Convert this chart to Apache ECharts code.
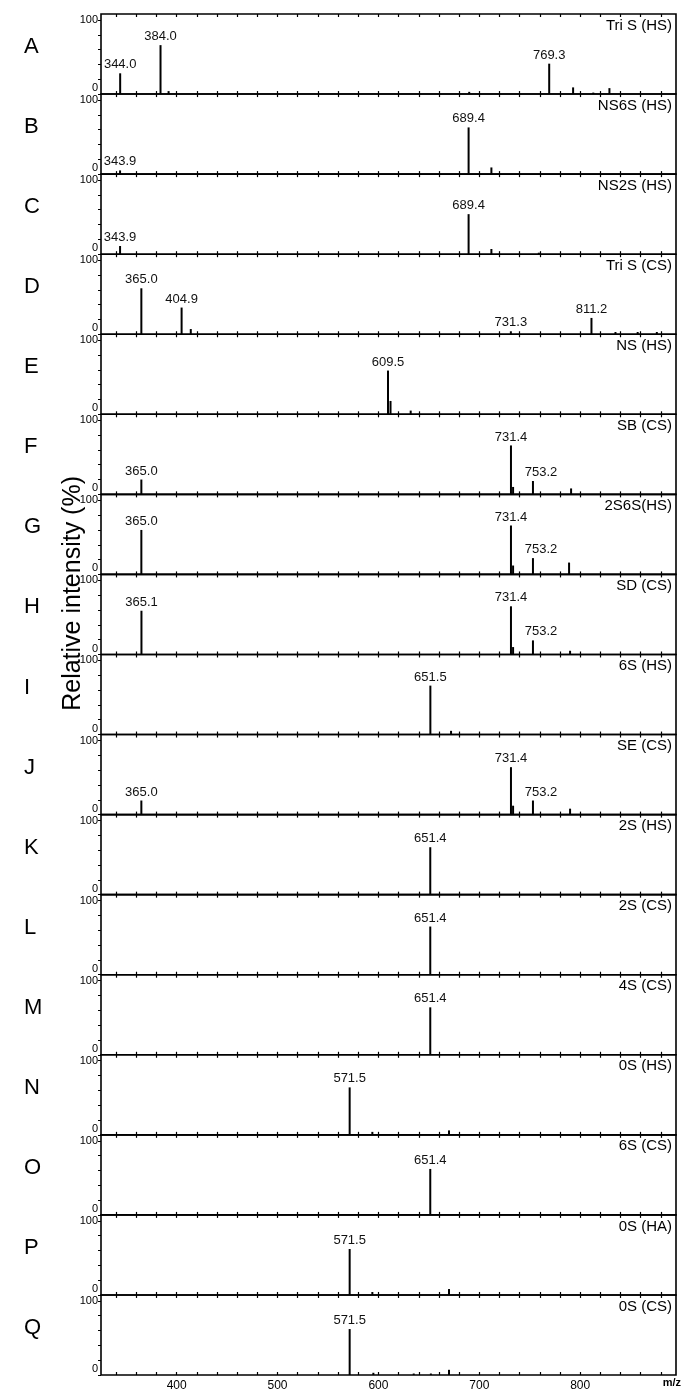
<!DOCTYPE html>
<html>
<head>
<meta charset="utf-8">
<script src="https://cdn.jsdelivr.net/npm/echarts@6/dist/echarts.min.js"></script>
<style>
  html, body { margin: 0; padding: 0; background: #fff; }
  #chart { width: 685px; height: 1392px; }
</style>
</head>
<body>
<div id="chart"></div>
<script>
// panel letters and titles
var letters = ['A', 'B', 'C', 'D', 'E', 'F', 'G', 'H', 'I', 'J', 'K', 'L', 'M', 'N', 'O', 'P', 'Q']
var titles = ['Tri S (HS)', 'NS6S (HS)', 'NS2S (HS)', 'Tri S (CS)', 'NS (HS)', 'SB (CS)', '2S6S(HS)', 'SD (CS)',
  '6S (HS)', 'SE (CS)', '2S (HS)', '2S (CS)', '4S (CS)', '0S (HS)', '6S (CS)', '0S (HA)', '0S (CS)']

// peaks: [m/z, relative intensity %, labelled]
var peaksA = [[344.0, 28, 1], [384.0, 66, 1], [392, 4, 0], [690, 3, 0], [769.3, 41, 1], [793, 9, 0], [813, 2, 0], [829, 8, 0]]
var peaksB = [[343.9, 5, 1], [689.4, 63, 1], [712, 9, 0]]
var peaksC = [[343.9, 11, 1], [689.4, 54, 1], [712, 7, 0], [759, 2, 0]]
var peaksD = [[365.0, 62, 1], [404.9, 36, 1], [414, 7, 0], [731.3, 4, 1], [811.2, 22, 1], [835, 3, 0], [857, 3, 0], [876, 3, 0]]
var peaksE = [[609.5, 59, 1], [612, 18, 0], [632, 5, 0]]
var peaksF = [[365.0, 20, 1], [731.4, 66, 1], [733.5, 10, 0], [753.2, 18, 1], [791, 8, 0]]
var peaksG = [[365.0, 60, 1], [731.4, 66, 1], [733.5, 12, 0], [753.2, 22, 1], [789, 16, 0]]
var peaksH = [[365.1, 59, 1], [731.4, 65, 1], [733.5, 10, 0], [753.2, 19, 1], [790, 5, 0]]
var peaksI = [[651.5, 66, 1], [672, 5, 0]]
var peaksJ = [[365.0, 19, 1], [731.4, 64, 1], [733.5, 12, 0], [753.2, 19, 1], [790, 8, 0]]
var peaksK = [[651.4, 64, 1]]
var peaksL = [[651.4, 65, 1]]
var peaksM = [[651.4, 64, 1]]
var peaksN = [[571.5, 64, 1], [594, 4, 0], [670, 6, 0]]
var peaksO = [[651.4, 62, 1]]
var peaksP = [[571.5, 62, 1], [594, 4, 0], [670, 8, 0]]
var peaksQ = [[571.5, 62, 1], [595, 3, 0], [635, 2, 0], [652, 2, 0], [670, 7, 0]]

var allPeaks = [peaksA, peaksB, peaksC, peaksD, peaksE, peaksF, peaksG, peaksH, peaksI,
  peaksJ, peaksK, peaksL, peaksM, peaksN, peaksO, peaksP, peaksQ]

var xTicks = [340, 360, 380, 400, 420, 440, 460, 480, 500, 520, 540, 560, 580, 600, 620, 640, 660, 680, 700, 720, 740, 760, 780, 800, 820, 840, 860, 880]
var xLabels = [400, 500, 600, 700, 800]
var yTicks = [0, 20, 40, 60, 80, 100]
var yLabels = [0, 100]

var FONT = 'Liberation Sans, Arial, sans-serif'
var TOP = 14
var PANEL_H = 80.06
var LEFT = 101
var RIGHT = 9

var chart = echarts.init(document.getElementById('chart'), null, { renderer: 'canvas' })

var grids = []
var xAxes = []
var yAxes = []
var series = []
var graphics = []

allPeaks.forEach(function(peaks, i) {
  var top = TOP + i * PANEL_H
  var last = i === allPeaks.length - 1
  grids.push({
    left: LEFT, right: RIGHT, top: top, height: PANEL_H,
    show: true, borderColor: '#000', borderWidth: 1.6, backgroundColor: 'transparent'
  })
  // bottom axis
  xAxes.push({
    type: 'value', gridIndex: i, min: 325, max: 895,
    axisLine: { show: false },
    axisTick: { show: true, inside: true, length: 3, lineStyle: { color: '#000', width: 1.2 }, customValues: xTicks },
    axisLabel: { show: last, customValues: xLabels, color: '#000', fontSize: 12, fontFamily: FONT, margin: 5 },
    splitLine: { show: false }
  })
  // top axis, ticks only
  xAxes.push({
    type: 'value', gridIndex: i, position: 'top', min: 325, max: 895,
    axisLine: { show: false },
    axisTick: { show: true, inside: true, length: 3, lineStyle: { color: '#000', width: 1.2 }, customValues: xTicks },
    axisLabel: { show: false },
    splitLine: { show: false }
  })
  yAxes.push({
    type: 'value', gridIndex: i, min: 0, max: 108,
    axisLine: { show: false },
    axisTick: { show: true, length: 3, lineStyle: { color: '#000', width: 1 }, customValues: yTicks },
    axisLabel: {
      show: true, customValues: yLabels, color: '#000', fontSize: 11, fontFamily: FONT, margin: 3,
      formatter: function(v) { return v === 0 ? '{z|0}' : '{h|100}' },
      rich: {
        z: { fontSize: 11, fontFamily: FONT, color: '#000', padding: [0, 0, 12, 0] },
        h: { fontSize: 11, fontFamily: FONT, color: '#000' }
      }
    },
    splitLine: { show: false }
  })
  series.push({
    type: 'bar',
    xAxisIndex: i * 2,
    yAxisIndex: i,
    barWidth: 2,
    itemStyle: { color: '#000' },
    silent: true,
    animation: false,
    data: peaks.map(function(p) {
      return {
        value: [p[0], p[1]],
        label: {
          show: !!p[2], position: 'top', distance: 2,
          offset: [p[0] === 753.2 ? 8 : 0, 0],
          formatter: p[0].toFixed(1), color: '#111', fontSize: 13, fontFamily: FONT
        }
      }
    })
  })
  graphics.push({
    type: 'text', left: 24, top: top + 22,
    style: { text: letters[i], font: '22px ' + FONT, fill: '#000' }
  })
  graphics.push({
    type: 'text', right: 13, top: top + 4,
    style: { text: titles[i], font: '15px ' + FONT, fill: '#000' }
  })
})

graphics.push({
  type: 'text', left: 61, top: 476, rotation: Math.PI / 2,
  style: { text: 'Relative intensity (%)', font: '25px ' + FONT, fill: '#000' }
})
graphics.push({
  type: 'text', right: 4, top: 1377,
  style: { text: 'm/z', font: 'bold 11px ' + FONT, fill: '#000' }
})

chart.setOption({
  animation: false,
  grid: grids,
  xAxis: xAxes,
  yAxis: yAxes,
  series: series,
  graphic: graphics
})
</script>
</body>
</html>
